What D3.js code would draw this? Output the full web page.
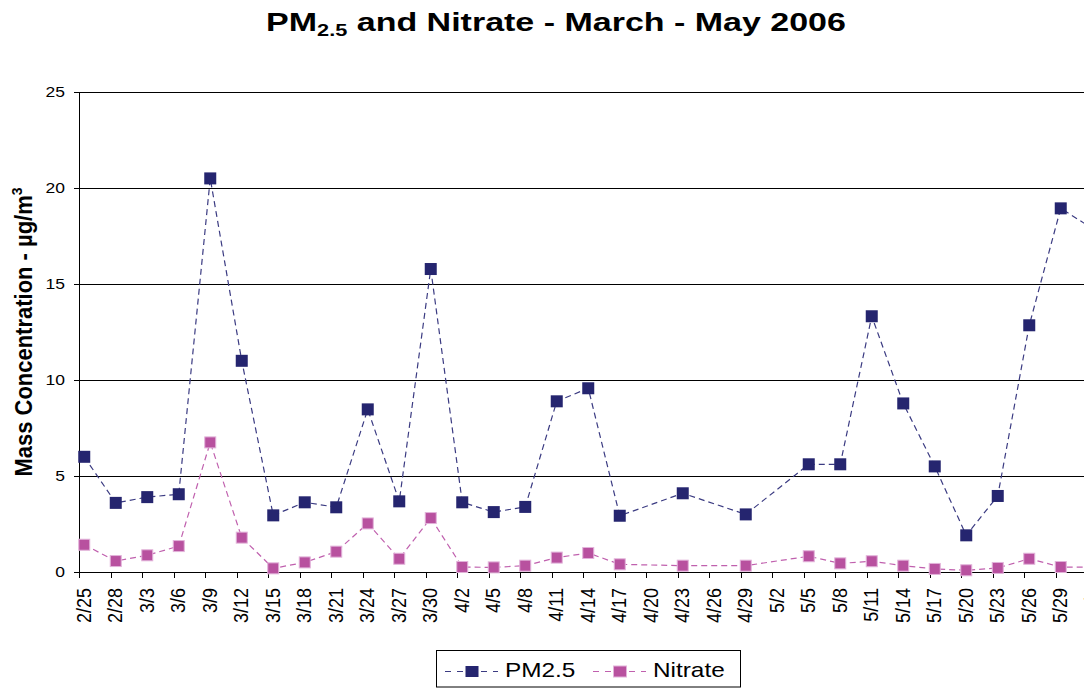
<!DOCTYPE html>
<html>
<head>
<meta charset="utf-8">
<script src="https://cdn.jsdelivr.net/npm/d3@7"></script>
<style>
  html, body { margin: 0; padding: 0; background: #fff; }
  svg { display: block; font-family: "Liberation Sans", Arial, sans-serif; }
</style>
</head>
<body>
<div id="root"></div>
<script>
const width = 1084;
const height = 688;
const margin = { top: 92, left: 79, bottom: 116 };
const pxPerDay = 10.5;

// sample dates and measured values (µg/m3)
const sampleDates = ["2/25", "2/28", "3/3", "3/6", "3/9", "3/12", "3/15", "3/18", "3/21", "3/24",
  "3/27", "3/30", "4/2", "4/5", "4/8", "4/11", "4/14", "4/17", "4/23", "4/29",
  "5/5", "5/8", "5/11", "5/14", "5/17", "5/20", "5/23", "5/26", "5/29", "6/1"];
const pm25 = [6.0, 3.6, 3.9, 4.05, 20.5, 11.0, 2.95, 3.63, 3.37, 8.47,
  3.68, 15.78, 3.63, 3.12, 3.39, 8.89, 9.57, 2.93, 4.1, 3.0,
  5.61, 5.61, 13.32, 8.78, 5.5, 1.91, 3.96, 12.85, 18.94, 17.9];
const nitrate = [1.42, 0.57, 0.87, 1.35, 6.75, 1.79, 0.19, 0.5, 1.06, 2.53,
  0.69, 2.81, 0.26, 0.24, 0.33, 0.75, 0.99, 0.4, 0.33, 0.33,
  0.82, 0.45, 0.56, 0.33, 0.16, 0.09, 0.21, 0.69, 0.26, 0.25];

const tickLabels = ["2/25", "2/28", "3/3", "3/6", "3/9", "3/12", "3/15", "3/18", "3/21", "3/24",
  "3/27", "3/30", "4/2", "4/5", "4/8", "4/11", "4/14", "4/17", "4/20", "4/23", "4/26", "4/29",
  "5/2", "5/5", "5/8", "5/11", "5/14", "5/17", "5/20", "5/23", "5/26", "5/29", "6/1"];
const yTicks = [0, 5, 10, 15, 20, 25];

const series = [
  { name: "PM2.5", values: pm25, color: "#25256f", line: "#3b3b82", size: 12, stroke: "none" },
  { name: "Nitrate", values: nitrate, color: "#b8519f", line: "#c060ae", size: 11, stroke: "#e2b3da" }
];

const parseDate = d3.utcParse("%m/%d/%Y");
const toDate = (s) => parseDate(s + "/2006");
const start = toDate("2/25");

const x = d3.scaleUtc()
    .domain([start, d3.utcDay.offset(start, 100)])
    .range([margin.left, margin.left + 100 * pxPerDay]);
const y = d3.scaleLinear().domain([0, 25]).range([height - margin.bottom, margin.top]);
// points sit in the middle of their day slot
const xMid = (s) => x(d3.utcHour.offset(toDate(s), 12));

const svg = d3.select("#root").append("svg")
    .attr("width", width)
    .attr("height", height);

// title
const title = svg.append("text")
    .attr("transform", "translate(556,31) scale(1.36,1)")
    .attr("text-anchor", "middle")
    .attr("font-weight", "bold")
    .attr("font-size", 25)
    .attr("fill", "#000");
title.append("tspan").text("PM");
title.append("tspan").attr("font-size", 16).attr("dy", 5).text("2.5");
title.append("tspan").attr("dy", -5).text(" and Nitrate - March - May 2006");

// gridlines
svg.append("g").selectAll("line")
  .data(yTicks.filter(d => d > 0))
  .enter().append("line")
    .attr("x1", margin.left).attr("x2", width)
    .attr("y1", d => Math.round(y(d)) + 0.5).attr("y2", d => Math.round(y(d)) + 0.5)
    .attr("stroke", "#000")
    .attr("stroke-width", 1);

// y axis
const yAxis = svg.append("g");
yAxis.append("line")
    .attr("x1", margin.left + 0.5).attr("x2", margin.left + 0.5)
    .attr("y1", y(25)).attr("y2", y(0))
    .attr("stroke", "#000");
const yTick = yAxis.selectAll("g.tick").data(yTicks).enter().append("g").attr("class", "tick");
yTick.append("line")
    .attr("x1", margin.left - 5).attr("x2", margin.left)
    .attr("y1", d => Math.round(y(d)) + 0.5).attr("y2", d => Math.round(y(d)) + 0.5)
    .attr("stroke", "#000");
yTick.append("text")
    .attr("transform", d => `translate(65,${y(d)}) scale(1.25,1)`)
    .attr("dy", "0.36em")
    .attr("text-anchor", "end")
    .attr("font-size", 14)
    .text(d => d);

// x axis
const xAxis = svg.append("g");
xAxis.append("line")
    .attr("x1", margin.left).attr("x2", width)
    .attr("y1", y(0) + 0.5).attr("y2", y(0) + 0.5)
    .attr("stroke", "#000")
    .attr("stroke-width", 1.2);
const xTick = xAxis.selectAll("g.tick").data(tickLabels).enter().append("g").attr("class", "tick");
xTick.append("line")
    .attr("x1", d => Math.round(x(toDate(d))) + 0.5).attr("x2", d => Math.round(x(toDate(d))) + 0.5)
    .attr("y1", y(0)).attr("y2", y(0) + 6)
    .attr("stroke", "#000");
xTick.append("text")
    .attr("transform", d => `translate(${xMid(d) - 1},588) scale(1.15,1) rotate(-90)`)
    .attr("dy", "0.36em")
    .attr("text-anchor", "end")
    .attr("font-size", 18)
    .text(d => d);

// y axis title
const yTitle = svg.append("text")
    .attr("transform", "translate(23,332) scale(1.08,1) rotate(-90)")
    .attr("text-anchor", "middle")
    .attr("dy", "0.36em")
    .attr("font-weight", "bold")
    .attr("font-size", 22);
yTitle.append("tspan").text("Mass Concentration - µg/m");
yTitle.append("tspan").attr("font-size", 14).attr("dy", -9).text("3");

// series
const line = d3.line()
    .x(d => xMid(d.date))
    .y(d => y(d.value));

series.forEach(s => {
  const pts = sampleDates.map((d, i) => ({ date: d, value: s.values[i] }));
  svg.append("path")
      .datum(pts)
      .attr("fill", "none")
      .attr("stroke", s.line)
      .attr("stroke-width", 1.2)
      .attr("stroke-dasharray", "6,4")
      .attr("d", line);
  svg.append("g").selectAll("rect")
    .data(pts)
    .enter().append("rect")
      .attr("x", d => xMid(d.date) - s.size / 2)
      .attr("y", d => y(d.value) - s.size / 2)
      .attr("width", s.size)
      .attr("height", s.size)
      .attr("fill", s.color)
      .attr("stroke", s.stroke);
});

// legend
const legend = svg.append("g");
legend.append("rect")
    .attr("x", 436.5).attr("y", 650.5)
    .attr("width", 304).attr("height", 36.5)
    .attr("fill", "#fff")
    .attr("stroke", "#000");
const legendX = [445, 593];
series.forEach((s, i) => {
  const lx = legendX[i];
  const g = legend.append("g");
  g.append("line")
      .attr("x1", lx).attr("x2", lx + 53)
      .attr("y1", 671.5).attr("y2", 671.5)
      .attr("stroke", s.line)
      .attr("stroke-width", 1.2)
      .attr("stroke-dasharray", "6,6");
  g.append("rect")
      .attr("x", lx + 27 - 6.5).attr("y", 671.5 - 5.5)
      .attr("width", 13).attr("height", 11)
      .attr("fill", s.color)
      .attr("stroke", s.stroke);
  g.append("text")
      .attr("transform", `translate(${lx + 60},677) scale(1.16,1)`)
      .attr("font-size", 21)
      .text(s.name);
});
</script>
</body>
</html>
